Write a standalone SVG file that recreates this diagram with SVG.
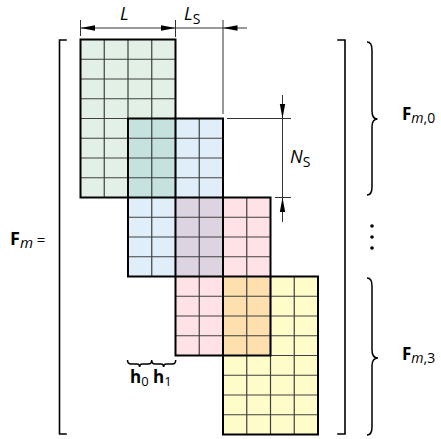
<svg xmlns="http://www.w3.org/2000/svg" width="441" height="439" viewBox="0 0 441 439">
<style>
.grid{fill:none;stroke:#404040;stroke-width:1.2}
.border{fill:none;stroke:#000;stroke-width:2}
.dim{fill:none;stroke:#333;stroke-width:1}
.ah{fill:#000;stroke:none}
.br{fill:none;stroke:#000;stroke-width:1.6;stroke-linecap:square}
.brace{fill:none;stroke:#000;stroke-width:1.5}
text{font-family:"Open Sans","Noto Sans","Liberation Sans",sans-serif;fill:#000}
.it{font-style:italic}
.bd{font-weight:bold}
</style>
<rect width="441" height="439" fill="#fff"/>
<g id="block0">
<rect x="80.5" y="39.5" width="95" height="158" fill="#e2f0e5"/>
<path class="grid" d="M104.25,39.5V197.5M128,39.5V197.5M151.75,39.5V197.5M80.5,59.25H175.5M80.5,79H175.5M80.5,98.75H175.5M80.5,118.5H175.5M80.5,138.25H175.5M80.5,158H175.5M80.5,177.75H175.5"/>
</g>
<g id="block1">
<rect x="128" y="118.5" width="95" height="158" fill="#dfeef9"/>
<rect x="128" y="118.5" width="47.5" height="79" fill="#c5e2e1"/>
<path class="grid" d="M151.75,118.5V276.5M175.5,118.5V276.5M199.25,118.5V276.5M128,138.25H223M128,158H223M128,177.75H223M128,197.5H223M128,217.25H223M128,237H223M128,256.75H223"/>
</g>
<g id="block2">
<rect x="175.5" y="197.5" width="95" height="158" fill="#fee2e5"/>
<rect x="175.5" y="197.5" width="47.5" height="79" fill="#ded4e1"/>
<path class="grid" d="M199.25,197.5V355.5M223,197.5V355.5M246.75,197.5V355.5M175.5,217.25H270.5M175.5,237H270.5M175.5,256.75H270.5M175.5,276.5H270.5M175.5,296.25H270.5M175.5,316H270.5M175.5,335.75H270.5"/>
</g>
<g id="block3">
<rect x="223" y="276.5" width="95" height="158" fill="#fefdca"/>
<rect x="223" y="276.5" width="47.5" height="79" fill="#fde0ae"/>
<path class="grid" d="M246.75,276.5V434.5M270.5,276.5V434.5M294.25,276.5V434.5M223,296.25H318M223,316H318M223,335.75H318M223,355.5H318M223,375.25H318M223,395H318M223,414.75H318"/>
</g>
<g id="borders">
<rect class="border" x="80.5" y="39.5" width="95" height="158"/>
<rect class="border" x="128" y="118.5" width="95" height="158"/>
<rect class="border" x="175.5" y="197.5" width="95" height="158"/>
<rect class="border" x="223" y="276.5" width="95" height="158"/>
</g>
<g id="connectors">
<path class="dim" d="M80.5,20V36M175.5,20V37M223,20V114M80.5,28H247"/>
<polygon class="ah" points="80.5,28 95,25.3 95,30.7"/>
<polygon class="ah" points="175.5,28 161,25.3 161,30.7"/>
<polygon class="ah" points="223,28 237.5,25.3 237.5,30.7"/>
<path class="dim" d="M282.5,95V222M227,118.5H291M275,197.5H291"/>
<polygon class="ah" points="282.5,118.5 279.8,104 285.2,104"/>
<polygon class="ah" points="282.5,197.5 279.8,212 285.2,212"/>
</g>
<g id="brackets">
<path class="br" d="M66,40H59.5V434H66"/>
<path class="br" d="M338,40H345V434H338"/>
</g>
<g id="braces">
<path class="brace" d="M367,42Q372,42 372,50L372,111Q372,119 377.5,119Q372,119 372,127L372,187Q372,195 367,195"/>
<path class="brace" d="M367,278Q372,278 372,286L372,350Q372,358 378,358Q372,358 372,366L372,427Q372,435 367,435"/>
<path class="brace" d="M127.5,360Q127.5,364 131,364L137,364Q139.6,364 139.6,367Q139.6,364 142.2,364L148.5,364Q151.7,364 151.7,360Q151.7,364 155,364L161,364Q163.6,364 163.6,367Q163.6,364 166.2,364L172.5,364Q175.7,364 175.7,360"/>
<circle cx="372" cy="226" r="1.8"/>
<circle cx="372" cy="237" r="1.8"/>
<circle cx="372" cy="248" r="1.8"/>
</g>
<g id="labels">
<text x="120" y="20" font-size="18" class="it">L</text>
<text x="184" y="20" font-size="18" class="it">L<tspan font-size="14" font-style="normal" dy="4">S</tspan></text>
<text x="290" y="163" font-size="18" class="it">N<tspan font-size="14" font-style="normal" dy="4">S</tspan></text>
<text x="10" y="245" font-size="18" class="bd">F<tspan font-size="15" font-weight="normal" font-style="italic" dy="3">m</tspan><tspan font-weight="normal" font-size="15" dy="-3"> =</tspan></text>
<text x="402" y="120" font-size="17" class="bd">F<tspan font-size="14" font-weight="normal" font-style="italic" dy="3">m</tspan><tspan font-size="14" font-weight="normal">,0</tspan></text>
<text x="402" y="360" font-size="17" class="bd">F<tspan font-size="14" font-weight="normal" font-style="italic" dy="3">m</tspan><tspan font-size="14" font-weight="normal">,3</tspan></text>
<text x="130" y="383" font-size="17" class="bd">h<tspan font-size="13" font-weight="normal" dy="3">0</tspan></text>
<text x="153" y="383" font-size="17" class="bd">h<tspan font-size="13" font-weight="normal" dy="3">1</tspan></text>
</g>
</svg>
